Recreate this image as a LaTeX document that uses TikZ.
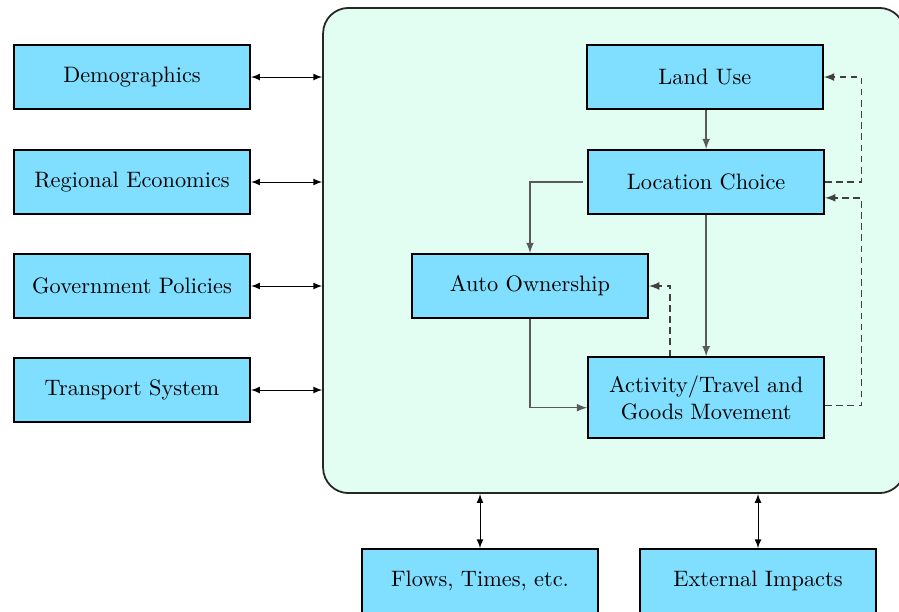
\documentclass[tikz,border=0pt]{standalone}
\usetikzlibrary{positioning,arrows}
\definecolor{boxblue}{RGB}{128,222,255}
\definecolor{mint}{RGB}{226,253,242}

\begin{document}
\begin{tikzpicture}[>=latex,
blocknode/.style={rectangle, draw=black, thick, fill=boxblue, minimum width=3.72cm, minimum height=1.01cm, align=center},
link/.style={draw=black!65, semithick},
feedback/.style={draw=black!75, semithick, densely dashed},
]
\useasboundingbox (0,0) rectangle (14.157,9.622);

\node[draw=black!85, thick, fill=mint, rounded corners=0.4cm, minimum width=9.16cm, minimum height=7.64cm] (model) at (9.668,5.677) {};

\node[blocknode]          (demo)      at (2.079,8.409)   {Demographics};
\node[blocknode]          (econ)      at (2.079,6.756)   {Regional Economics};
\node[blocknode]          (policy)    at (2.079,5.118)   {Government Policies};
\node[blocknode]          (transport) at (2.079,3.480)   {Transport System};

\node[blocknode]          (landuse)   at (11.10,8.409)   {Land Use};
\node[blocknode]          (location)  at (11.12,6.756)   {Location Choice};
\node[blocknode]          (auto)      at (8.346,5.118)   {Auto Ownership};
\node[blocknode, minimum height=1.27cm] (activity) at (11.12,3.362) {Activity/Travel and\\Goods Movement};

\node[blocknode]          (flows)     at (7.559,0.47)    {Flows, Times, etc.};
\node[blocknode]          (impacts)   at (11.937,0.47)   {External Impacts};

\foreach \src in {demo,econ,policy,transport}
  \draw[<->] (\src.east) -- (\src.east -| model.west);
\foreach \dst in {flows,impacts}
  \draw[<->] (\dst.north |- model.south) -- (\dst.north);

\draw[->, link] (location.north |- landuse.south) -- (location.north);
\draw[->, link] ([xshift=-2pt]location.west) -| (auto.north);
\draw[->, link] (location.south) -- (activity.north);
\draw[->, link] (auto.south) |- ([yshift=-0.16cm]activity.west);

% feedback loops
\draw[->, feedback] ([xshift=-0.57cm]activity.north) |- (auto.east);
\draw[->, feedback] (location.east) -- ++(0.57,0) |- (landuse.east);
\draw[->, feedback] ([yshift=-0.13cm]activity.east) -- ++(0.57,0) |- ([yshift=-0.25cm]location.east);
\end{tikzpicture}
\end{document}
